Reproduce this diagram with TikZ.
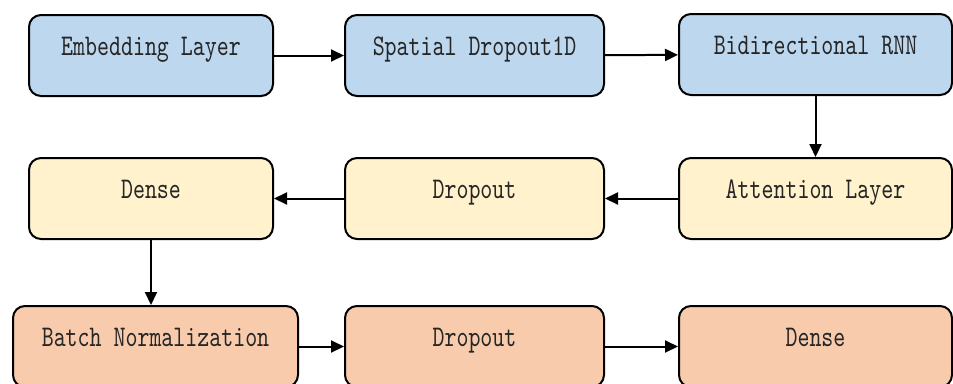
\documentclass[tikz,border=0pt]{standalone}
\usepackage{fontspec}
\setmonofont{lmmono10-regular.otf}[FakeStretch=0.76]
\usetikzlibrary{arrows.meta}
\definecolor{embblue}{RGB}{189,215,238}
\definecolor{attyellow}{RGB}{255,242,204}
\definecolor{denseorange}{RGB}{248,203,173}
\tikzset{
	layer/.style={draw=black, line width=2pt, rounded corners=12pt, anchor=north west,
		inner xsep=0pt, inner ysep=0pt, text height=40pt, text depth=41pt,
		font=\ttfamily\fontsize{30}{32}\selectfont, text=black!85},
	flow/.style={line width=2pt, -{Triangle[length=13pt,width=12pt]}}
}

\begin{document}
\begin{tikzpicture}[x=1pt,y=-1pt]
	\useasboundingbox (0,0) rectangle (953,383);

	\node[layer, fill=embblue, minimum width=244pt] (embed) at (28,14) {Embedding Layer};
	\node[layer, fill=embblue, minimum width=259pt] (spatial) at (344,14) {Spatial Dropout1D};
	\node[layer, fill=embblue, minimum width=273pt] (birnn) at (678,13) {Bidirectional RNN};

	\node[layer, fill=attyellow, minimum width=244pt] (dense1) at (28,157) {Dense};
	\node[layer, fill=attyellow, minimum width=259pt] (drop1) at (344,157) {Dropout};
	\node[layer, fill=attyellow, minimum width=273pt] (attn) at (678,157) {Attention Layer};

	\node[layer, fill=denseorange, minimum width=285pt] (batch) at (12,305) {Batch Normalization};
	\node[layer, fill=denseorange, minimum width=259pt] (drop2) at (344,305) {Dropout};
	\node[layer, fill=denseorange, minimum width=273pt] (dense2) at (678,305) {Dense};

	\draw[flow] (embed) -- (spatial);
	\draw[flow] (spatial) -- (birnn);
	\draw[flow] (birnn.south) -- (attn.north);
	\draw[flow] (attn) -- (drop1);
	\draw[flow] (drop1) -- (dense1);
	\draw[flow] (dense1.south) -- (dense1.south |- batch.north);
	\draw[flow] (batch) -- (drop2);
	\draw[flow] (drop2) -- (dense2);
\end{tikzpicture}
\end{document}
